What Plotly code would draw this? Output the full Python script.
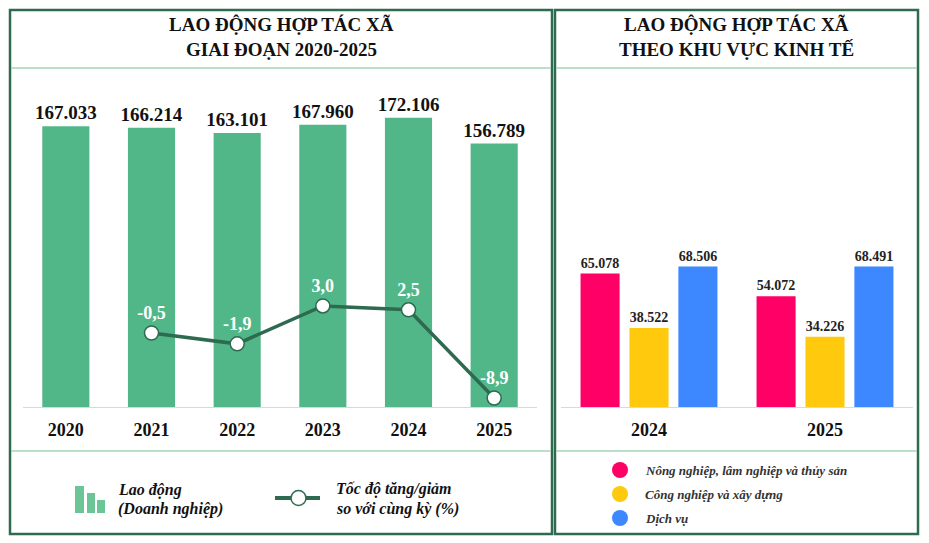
import plotly.graph_objects as go

# ---------------- data ----------------
years = ["2020", "2021", "2022", "2023", "2024", "2025"]
workers = [167033, 166214, 163101, 167960, 172106, 156789]
growth_years = ["2021", "2022", "2023", "2024", "2025"]
growth = [-0.5, -1.9, 3.0, 2.5, -8.9]

sector_years = ["2024", "2025"]
sector_names = ["Nông nghiệp, lâm nghiệp và thủy sản", "Công nghiệp và xây dựng", "Dịch vụ"]
agri = [65078, 54072]
indus = [38522, 34226]
serv = [68506, 68491]

# ---------------- styling ----------------
W, H = 929, 543
FONT = "Liberation Serif"
GREEN = "#52b788"
DARK = "#2d6a4f"
FRAME = "#2e6b4e"
SEP = "#a6d4b8"
SECTOR_COLORS = ["#ff0066", "#ffc90e", "#3d87ff"]


def px(x):
    return x / W


def py(y):
    return 1 - y / H


fig = go.Figure()

# left: bars
fig.add_trace(go.Bar(
    x=years, y=workers, xaxis="x", yaxis="y",
    marker=dict(color=GREEN, line=dict(width=0)), width=0.55,
    texttemplate="%{y:,.0f}", textposition="outside", cliponaxis=False,
    constraintext="none",
    textfont=dict(family=FONT, size=19, color="#111111", weight="bold"),
    hoverinfo="skip",
))
# left: growth line
fig.add_trace(go.Scatter(
    x=growth_years, y=growth, xaxis="x", yaxis="y2",
    mode="lines+markers+text",
    line=dict(color=DARK, width=3.5),
    marker=dict(size=14, color="white", line=dict(color=DARK, width=1.5)),
    texttemplate="%{y:.1f}", textposition="top center", cliponaxis=False,
    textfont=dict(family=FONT, size=18, color="white", weight="bold"),
    hoverinfo="skip",
))

# right: sector bars
offsets = [-0.389, -0.111, 0.167]
for name, vals, col, off in zip(sector_names, [agri, indus, serv], SECTOR_COLORS, offsets):
    fig.add_trace(go.Bar(
        x=sector_years, y=vals, name=name, xaxis="x2", yaxis="y3",
        marker=dict(color=col, line=dict(width=0)), width=0.222, offset=off,
        texttemplate="%{y:,.0f}", textposition="outside", cliponaxis=False,
        constraintext="none",
        textfont=dict(family=FONT, size=14, color="#222222", weight="bold"),
        hoverinfo="skip",
    ))

ydom = [py(407), py(80)]
tickfont = dict(family=FONT, size=18, color="#111111", weight="bold")

fig.update_layout(
    width=W, height=H, margin=dict(l=0, r=0, t=0, b=0),
    paper_bgcolor="white", plot_bgcolor="white",
    showlegend=False, separators=",.",
    barmode="group",
    xaxis=dict(domain=[px(23), px(537)], type="category", range=[-0.5, 5.5],
               showline=True, linecolor="#d9d9d9", linewidth=1,
               ticks="outside", ticklen=6, tickcolor="rgba(0,0,0,0)",
               tickfont=tickfont, showgrid=False, zeroline=False, fixedrange=True),
    yaxis=dict(domain=ydom, range=[0, 194600], visible=False, showgrid=False),
    yaxis2=dict(overlaying="y", range=[-10.06, 32.2], visible=False, showgrid=False),
    xaxis2=dict(domain=[px(561), px(913)], type="category", range=[-0.5, 1.5],
                anchor="y3",
                showline=True, linecolor="#d9d9d9", linewidth=1,
                ticks="outside", ticklen=6, tickcolor="rgba(0,0,0,0)",
                tickfont=tickfont, showgrid=False, zeroline=False, fixedrange=True),
    yaxis3=dict(domain=ydom, range=[0, 159500], visible=False, showgrid=False,
                anchor="x2"),
)

shapes = []
# frames
for x0, x1 in [(10, 552), (555, 918)]:
    shapes.append(dict(type="rect", xref="paper", yref="paper",
                       x0=px(x0), x1=px(x1), y0=py(534), y1=py(10),
                       line=dict(color=FRAME, width=2.5)))
    for yy in (68, 451):
        shapes.append(dict(type="line", xref="paper", yref="paper",
                           x0=px(x0 + 1), x1=px(x1 - 1), y0=py(yy), y1=py(yy),
                           line=dict(color=SEP, width=1.5)))

# left legend: bar icon
ICON = "#6cc596"
for x0, x1, y0 in [(75, 84, 486), (87, 95, 493), (97, 105, 500)]:
    shapes.append(dict(type="rect", xref="paper", yref="paper",
                       x0=px(x0), x1=px(x1), y0=py(513), y1=py(y0),
                       fillcolor=ICON, line=dict(width=0)))
# left legend: line icon
shapes.append(dict(type="line", xref="paper", yref="paper",
                   x0=px(275), x1=px(320), y0=py(498), y1=py(498),
                   line=dict(color=DARK, width=4)))
shapes.append(dict(type="circle", xref="paper", yref="paper",
                   x0=px(291), x1=px(306), y0=py(505.5), y1=py(490.5),
                   fillcolor="white", line=dict(color=DARK, width=1.5)))
# right legend circles
for col, yy in zip(SECTOR_COLORS, [470, 494, 518]):
    shapes.append(dict(type="circle", xref="paper", yref="paper",
                       x0=px(612), x1=px(628), y0=py(yy + 8), y1=py(yy - 8),
                       fillcolor=col, line=dict(width=0)))

annotations = []
title_font = dict(family=FONT, size=19, color="#111111", weight="bold")
for xc, lines in [(281, ["LAO ĐỘNG HỢP TÁC XÃ", "GIAI ĐOẠN 2020-2025"]),
                  (736, ["LAO ĐỘNG HỢP TÁC XÃ", "THEO KHU VỰC KINH TẾ"])]:
    for yy, t in zip([25, 50], lines):
        annotations.append(dict(text=t, x=px(xc), y=py(yy), xref="paper", yref="paper",
                                xanchor="center", yanchor="middle", showarrow=False,
                                font=title_font))

leg_font = dict(family=FONT, size=16, color="#111111", weight="bold", style="italic")
for xx, yy, t in [(116, 490, "Lao động"), (116, 509, "(Doanh nghiệp)"),
                  (334, 489, "Tốc độ tăng/giảm"), (334, 509, "so với cùng kỳ (%)")]:
    annotations.append(dict(text=t, x=px(xx), y=py(yy), xref="paper", yref="paper",
                            xanchor="left", yanchor="middle", showarrow=False,
                            font=leg_font))

leg2_font = dict(family=FONT, size=13, color="#333333", weight="bold", style="italic")
for yy, t in zip([470, 494, 518], sector_names):
    annotations.append(dict(text=t, x=px(643), y=py(yy), xref="paper", yref="paper",
                            xanchor="left", yanchor="middle", showarrow=False,
                            font=leg2_font))

fig.update_layout(shapes=shapes, annotations=annotations)

fig.write_html("out.html")
